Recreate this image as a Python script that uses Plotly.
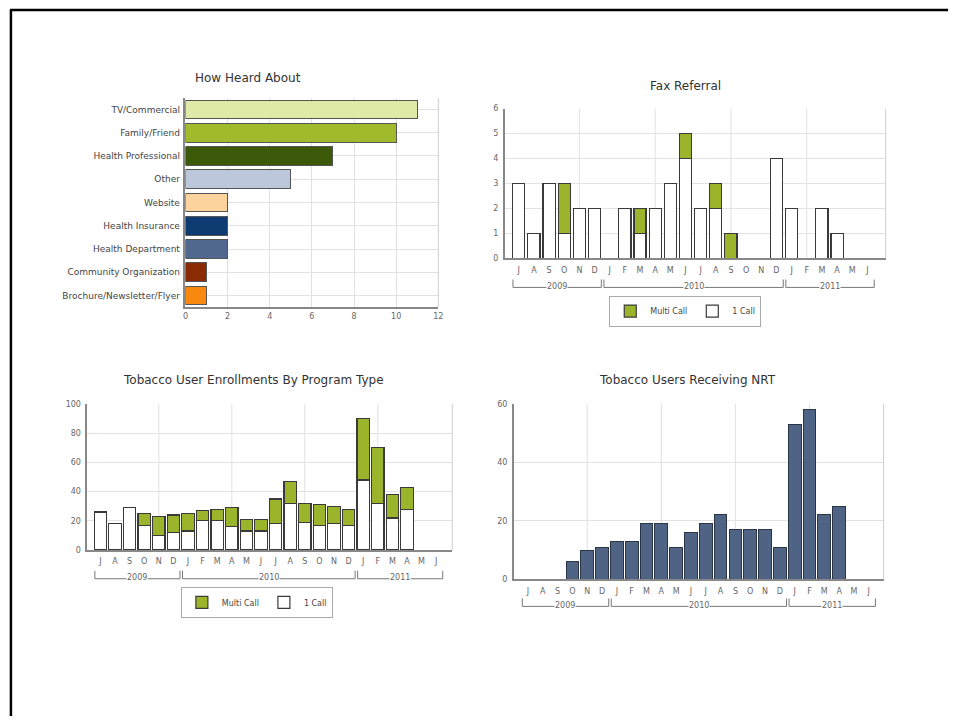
import plotly.graph_objects as go

W, H = 960, 721

# --- data ---
HEARD_CATS = ['TV/Commercial', 'Family/Friend', 'Health Professional', 'Other', 'Website',
              'Health Insurance', 'Health Department', 'Community Organization',
              'Brochure/Newsletter/Flyer']
HEARD_VALS = [11, 10, 7, 5, 2, 2, 2, 1, 1]
HEARD_COLORS = ['#dfeaa8', '#9fba2b', '#3c5909', '#bcc7dc', '#fdd39d',
                '#0e3c72', '#506890', '#8b2b05', '#f8890e']

MONTHS = ['J', 'A', 'S', 'O', 'N', 'D', 'J', 'F', 'M', 'A', 'M', 'J',
          'J', 'A', 'S', 'O', 'N', 'D', 'J', 'F', 'M', 'A', 'M', 'J']
MONTH_YEARS = [2009] * 6 + [2010] * 12 + [2011] * 6

FAX_ONE = [3, 1, 3, 1, 2, 2, 0, 2, 1, 2, 3, 4, 2, 2, 0, 0, 0, 4, 2, 0, 2, 1, 0, 0]
FAX_MULTI = [0, 0, 0, 2, 0, 0, 0, 0, 1, 0, 0, 1, 0, 1, 1, 0, 0, 0, 0, 0, 0, 0, 0, 0]

ENR_ONE = [26, 18, 29, 17, 10, 12, 13, 20, 20, 16, 13, 13, 18, 32, 19, 17, 18, 17, 48, 32, 22, 28, 0, 0]
ENR_MULTI = [0, 0, 0, 8, 13, 12, 12, 7, 8, 13, 8, 8, 17, 15, 13, 14, 12, 11, 42, 38, 16, 15, 0, 0]

NRT = [0, 0, 0, 6, 10, 11, 13, 13, 19, 19, 11, 16, 19, 22, 17, 17, 17, 11, 53, 58, 22, 25, 0, 0]

GREEN = '#9ab52b'
SLATE = '#4f6384'
OUTLINE = '#3a3a3a'
GRID = '#e2e2e2'
FONT = 'DejaVu Sans'


def fx(px):
    return px / W


def fy(py):
    return 1 - py / H


def nz(vals):
    # zero bars are not drawn at all in the original
    return [v if v else None for v in vals]


x_idx = list(range(len(MONTHS)))

fig = go.Figure()

# How Heard About
fig.add_trace(go.Bar(
    y=HEARD_CATS, x=HEARD_VALS, orientation='h', width=0.8,
    marker=dict(color=HEARD_COLORS, line=dict(color='#555', width=1)),
    xaxis='x', yaxis='y', showlegend=False))

# Fax Referral
fig.add_trace(go.Bar(x=x_idx, y=nz(FAX_ONE), name='1 Call', width=0.8,
                     marker=dict(color='white', line=dict(color=OUTLINE, width=1.2)),
                     xaxis='x2', yaxis='y2', legend='legend'))
fig.add_trace(go.Bar(x=x_idx, y=nz(FAX_MULTI), name='Multi Call', width=0.8,
                     marker=dict(color=GREEN, line=dict(color=OUTLINE, width=1.2)),
                     xaxis='x2', yaxis='y2', legend='legend'))

# Enrollments
fig.add_trace(go.Bar(x=x_idx, y=nz(ENR_ONE), name='1 Call', width=0.84,
                     marker=dict(color='white', line=dict(color=OUTLINE, width=1.2)),
                     xaxis='x3', yaxis='y3', legend='legend2'))
fig.add_trace(go.Bar(x=x_idx, y=nz(ENR_MULTI), name='Multi Call', width=0.84,
                     marker=dict(color=GREEN, line=dict(color=OUTLINE, width=1.2)),
                     xaxis='x3', yaxis='y3', legend='legend2'))

# NRT
fig.add_trace(go.Bar(x=x_idx, y=nz(NRT), width=0.86,
                     marker=dict(color=SLATE, line=dict(color='#2b3548', width=1)),
                     xaxis='x4', yaxis='y4', showlegend=False))

tick_font = dict(family=FONT, size=8, color='#666')


def month_xaxis(dom, rng):
    return dict(domain=[fx(dom[0]), fx(dom[1])], range=rng, tickmode='array',
                tickvals=x_idx, ticktext=MONTHS, showgrid=False, zeroline=False,
                showline=True, linecolor='#888', linewidth=1.5, ticks='',
                ticklabelstandoff=3, tickfont=tick_font, fixedrange=True)


def value_yaxis(dom, rng, dtick, anchor):
    return dict(domain=[fy(dom[0]), fy(dom[1])], range=rng, dtick=dtick,
                showgrid=True, gridcolor=GRID, zeroline=False, showline=True,
                linecolor='#888', linewidth=1.5, ticks='', tickfont=tick_font,
                anchor=anchor, ticklabelstandoff=3)


legend_style = dict(xanchor='center', yanchor='middle', orientation='h',
                    traceorder='reversed', bordercolor='#aaa', borderwidth=1,
                    font=dict(family=FONT, size=8, color='#444'), bgcolor='white',
                    itemwidth=30, tracegroupgap=0)

fig.update_layout(
    width=W, height=H, autosize=False,
    margin=dict(l=0, r=0, t=0, b=0),
    paper_bgcolor='white', plot_bgcolor='white',
    font=dict(family=FONT, size=8, color='#555'),
    barmode='stack',
    xaxis=dict(domain=[fx(184), fx(439)], range=[0, 12], dtick=2, showgrid=True,
               gridcolor=GRID, zeroline=False, showline=True, linecolor='#888',
               linewidth=1.5, ticks='', tickfont=tick_font, anchor='y'),
    yaxis=dict(domain=[fy(307), fy(95)], autorange='reversed', showgrid=True,
               gridcolor=GRID, showline=True, linecolor='#888', linewidth=1.5,
               ticks='', tickfont=dict(family=FONT, size=9, color='#444'),
               anchor='x', ticklabelstandoff=2),
    xaxis2=dict(month_xaxis((506, 890), [-0.92, 24.2]), anchor='y2'),
    yaxis2=value_yaxis((257.5, 106), [0, 6], 1, 'x2'),
    xaxis3=dict(month_xaxis((85, 453), [-0.9, 24.1]), anchor='y3'),
    yaxis3=value_yaxis((553, 405), [0, 100], 20, 'x3'),
    xaxis4=dict(month_xaxis((515, 888), [-0.96, 24.0]), anchor='y4'),
    yaxis4=value_yaxis((582.5, 405), [0, 60], 20, 'x4'),
    legend=dict(legend_style, x=fx(688), y=fy(311)),
    legend2=dict(legend_style, x=fx(256), y=fy(606)),
)

# chart titles
titles = [('How Heard About', 247, 75), ('Fax Referral', 688, 83),
          ('Tobacco User Enrollments By Program Type', 253, 381),
          ('Tobacco Users Receiving NRT', 690, 381)]
for text, px, py in titles:
    fig.add_annotation(text=text, x=fx(px), y=fy(py), xref='paper', yref='paper',
                       xanchor='center', yanchor='middle', showarrow=False,
                       font=dict(family=FONT, size=12, color='#333'))

shapes = []
# right edge of every plot area
for ax in ['x', 'x2', 'x3', 'x4']:
    yax = 'y' + ax[1:]
    shapes.append(dict(type='line', xref=ax + ' domain', yref=yax + ' domain',
                       x0=1, x1=1, y0=0, y1=1, line=dict(color='#cfcfcf', width=1)))

# sparse vertical grid on the month charts
for ax in ['x2', 'x3', 'x4']:
    yax = 'y' + ax[1:]
    for g in [4, 9, 14, 19]:
        shapes.append(dict(type='line', xref=ax, yref=yax + ' domain', x0=g, x1=g,
                           y0=0, y1=1, layer='below', line=dict(color=GRID, width=1)))

# year brackets under the month labels
years = sorted(set(MONTH_YEARS))
for ax, line_y in [('x2', 287), ('x3', 582), ('x4', 610)]:
    for yr in years:
        idx = [i for i, y in enumerate(MONTH_YEARS) if y == yr]
        a, b = idx[0] - 0.38, idx[-1] + 0.45
        shapes.append(dict(type='line', xref=ax, yref='paper', x0=a, x1=b,
                           y0=fy(line_y), y1=fy(line_y), line=dict(color='#777', width=1)))
        for xe in (a, b):
            shapes.append(dict(type='line', xref=ax, yref='paper', x0=xe, x1=xe,
                               y0=fy(line_y), y1=fy(line_y - 8),
                               line=dict(color='#777', width=1)))
        fig.add_annotation(text=str(yr), x=(a + b) / 2, y=fy(line_y - 1), xref=ax,
                           yref='paper', xanchor='center', yanchor='middle',
                           showarrow=False, bgcolor='white', borderpad=0,
                           font=dict(family=FONT, size=8, color='#666'))

# page frame (top and left edges)
shapes.append(dict(type='line', xref='paper', yref='paper', x0=fx(7), x1=fx(953),
                   y0=fy(6), y1=fy(6), line=dict(color='black', width=2.5)))
shapes.append(dict(type='line', xref='paper', yref='paper', x0=fx(8), x1=fx(8),
                   y0=fy(6), y1=0, line=dict(color='black', width=2.5)))

fig.update_layout(shapes=shapes)

fig.write_html("out.html", config={'displayModeBar': False},
               post_script="document.body.style.margin='0';document.body.style.overflow='hidden';")
